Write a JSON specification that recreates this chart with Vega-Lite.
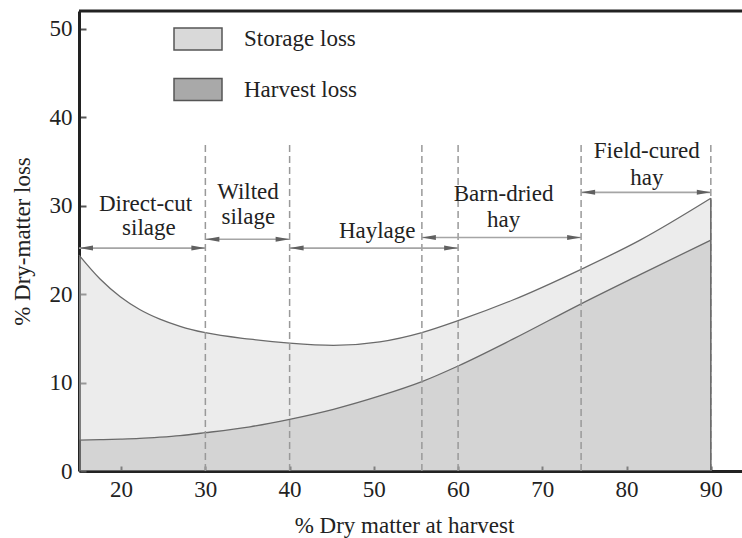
{
  "$schema": "https://vega.github.io/schema/vega-lite/v6.json",
  "width": 663,
  "height": 460,
  "autosize": {"type": "none"},
  "padding": {"left": 79, "top": 11, "right": 0, "bottom": 67},
  "background": "white",
  "config": {
    "view": {"stroke": null},
    "font": "Liberation Serif",
    "axis": {
      "labelFont": "Liberation Serif",
      "labelFontSize": 23,
      "labelColor": "#222",
      "titleFont": "Liberation Serif",
      "titleFontSize": 23,
      "titleFontWeight": "normal",
      "titleColor": "#222",
      "domainColor": "#222",
      "domainWidth": 3,
      "tickColor": "#555",
      "tickWidth": 2,
      "grid": false
    }
  },
  "datasets": {
    "curves": [
      {"dm": 15.0, "harvest": 3.5, "total": 24.4},
      {"dm": 17.5, "harvest": 3.54, "total": 21.7},
      {"dm": 19.9, "harvest": 3.6, "total": 19.7},
      {"dm": 22.2, "harvest": 3.68, "total": 18.26},
      {"dm": 24.6, "harvest": 3.82, "total": 17.17},
      {"dm": 27.0, "harvest": 4.0, "total": 16.36},
      {"dm": 30.0, "harvest": 4.33, "total": 15.63},
      {"dm": 35.3, "harvest": 5.0, "total": 14.9},
      {"dm": 40.0, "harvest": 5.84, "total": 14.45},
      {"dm": 45.2, "harvest": 6.97, "total": 14.2},
      {"dm": 50.7, "harvest": 8.48, "total": 14.6},
      {"dm": 55.7, "harvest": 10.1, "total": 15.65},
      {"dm": 60.0, "harvest": 11.87, "total": 17.0},
      {"dm": 66.5, "harvest": 14.9, "total": 19.33},
      {"dm": 74.6, "harvest": 18.9, "total": 22.8},
      {"dm": 81.6, "harvest": 22.2, "total": 26.1},
      {"dm": 90.0, "harvest": 26.1, "total": 30.83}
    ],
    "dividers": [
      {"dm": 30, "base": 0, "top": 37.1},
      {"dm": 40, "base": 0, "top": 37.1},
      {"dm": 55.7, "base": 0, "top": 37.1},
      {"dm": 60, "base": 0, "top": 37.1},
      {"dm": 74.6, "base": 0, "top": 37.1},
      {"dm": 90, "base": 0, "top": 37.1}
    ],
    "edge": [
      {"dm": 90, "base": 0, "top": 30.83}
    ],
    "frame": [
      {"from": 15, "to": 93.7, "level": 52}
    ],
    "arrows": [
      {"from": 15, "to": 30, "level": 25.2},
      {"from": 30, "to": 40, "level": 26.2},
      {"from": 40, "to": 60, "level": 25.2},
      {"from": 55.7, "to": 74.6, "level": 26.4},
      {"from": 74.6, "to": 90, "level": 31.5}
    ],
    "heads": [
      {"dm": 15, "level": 25.2, "dir": "left"},
      {"dm": 30, "level": 25.2, "dir": "right"},
      {"dm": 30, "level": 26.2, "dir": "left"},
      {"dm": 40, "level": 26.2, "dir": "right"},
      {"dm": 40, "level": 25.2, "dir": "left"},
      {"dm": 60, "level": 25.2, "dir": "right"},
      {"dm": 55.7, "level": 26.4, "dir": "left"},
      {"dm": 74.6, "level": 26.4, "dir": "right"},
      {"dm": 74.6, "level": 31.5, "dir": "left"},
      {"dm": 90, "level": 31.5, "dir": "right"}
    ],
    "labels": [
      {"dm": 22.9, "y": 29.4, "text": "Direct-cut"},
      {"dm": 23.3, "y": 26.68, "text": "silage"},
      {"dm": 35.06, "y": 30.75, "text": "Wilted"},
      {"dm": 35.1, "y": 27.9, "text": "silage"},
      {"dm": 50.4, "y": 26.3, "text": "Haylage"},
      {"dm": 65.4, "y": 30.5, "text": "Barn-dried"},
      {"dm": 65.4, "y": 27.6, "text": "hay"},
      {"dm": 82.4, "y": 35.35, "text": "Field-cured"},
      {"dm": 82.4, "y": 32.3, "text": "hay"}
    ]
  },
  "layer": [
    {
      "data": {"name": "curves"},
      "mark": {"type": "area", "interpolate": "monotone", "opacity": 0.5},
      "encoding": {
        "x": {
          "field": "dm", "type": "quantitative",
          "scale": {"domain": [15, 93.7], "nice": false, "zero": false},
          "axis": {"title": "% Dry matter at harvest", "values": [20, 30, 40, 50, 60, 70, 80, 90], "tickSize": -5, "labelPadding": 12, "titlePadding": 13, "titleX": 325}
        },
        "y": {
          "field": "total", "type": "quantitative", "stack": null,
          "scale": {"domain": [0, 52], "nice": false},
          "axis": {"title": "% Dry-matter loss", "values": [0, 10, 20, 30, 40, 50], "tickSize": -7, "labelPadding": 14, "titlePadding": 15}
        },
        "y2": {"field": "harvest"},
        "color": {
          "datum": "Storage loss",
          "type": "nominal",
          "scale": {"domain": ["Storage loss", "Harvest loss"], "range": ["#d9d9d9", "#a9a9a9"]},
          "legend": {
            "title": null,
            "orient": "none",
            "legendX": 94,
            "legendY": 3,
            "padding": 0,
            "symbolType": "M-1,-0.46H1V0.46H-1Z",
            "symbolSize": 2304,
            "symbolOpacity": 1,
            "symbolStrokeColor": "#555",
            "symbolStrokeWidth": 1.5,
            "rowPadding": 10.5,
            "labelOffset": 21,
            "labelFont": "Liberation Serif",
            "labelFontSize": 23,
            "labelColor": "#222",
            "labelLimit": 300,
            "encode": {"symbols": {"update": {"opacity": {"value": 1}, "stroke": {"value": "#555"}, "strokeWidth": {"value": 1.5}}}}
          }
        }
      }
    },
    {
      "data": {"name": "curves"},
      "mark": {"type": "area", "interpolate": "monotone", "opacity": 0.5},
      "encoding": {
        "x": {"field": "dm", "type": "quantitative"},
        "y": {"field": "harvest", "type": "quantitative", "stack": null},
        "color": {"datum": "Harvest loss", "type": "nominal"}
      }
    },
    {
      "data": {"name": "curves"},
      "mark": {"type": "line", "interpolate": "monotone", "color": "#6a6a6a", "strokeWidth": 1.3},
      "encoding": {
        "x": {"field": "dm", "type": "quantitative"},
        "y": {"field": "total", "type": "quantitative"}
      }
    },
    {
      "data": {"name": "curves"},
      "mark": {"type": "line", "interpolate": "monotone", "color": "#6a6a6a", "strokeWidth": 1.3},
      "encoding": {
        "x": {"field": "dm", "type": "quantitative"},
        "y": {"field": "harvest", "type": "quantitative"}
      }
    },
    {
      "data": {"name": "dividers"},
      "mark": {"type": "rule", "color": "#999999", "strokeWidth": 1.5, "strokeDash": [7, 4]},
      "encoding": {
        "x": {"field": "dm", "type": "quantitative"},
        "y": {"field": "base", "type": "quantitative"},
        "y2": {"field": "top"}
      }
    },
    {
      "data": {"name": "edge"},
      "mark": {"type": "rule", "color": "#6a6a6a", "strokeWidth": 1.6},
      "encoding": {
        "x": {"field": "dm", "type": "quantitative"},
        "y": {"field": "base", "type": "quantitative"},
        "y2": {"field": "top"}
      }
    },
    {
      "data": {"name": "arrows"},
      "mark": {"type": "rule", "color": "#a5a5a5", "strokeWidth": 1.6},
      "encoding": {
        "x": {"field": "from", "type": "quantitative"},
        "x2": {"field": "to"},
        "y": {"field": "level", "type": "quantitative"}
      }
    },
    {
      "data": {"name": "heads"},
      "mark": {"type": "point", "filled": true, "opacity": 1, "color": "#606060", "size": 196},
      "encoding": {
        "x": {"field": "dm", "type": "quantitative"},
        "y": {"field": "level", "type": "quantitative"},
        "shape": {
          "field": "dir", "type": "nominal",
          "scale": {"domain": ["left", "right"], "range": ["M0,0L2,-0.36L2,0.36Z", "M0,0L-2,-0.36L-2,0.36Z"]},
          "legend": null
        }
      }
    },
    {
      "data": {"name": "labels"},
      "mark": {"type": "text", "font": "Liberation Serif", "fontSize": 23, "color": "#222", "align": "center", "baseline": "alphabetic"},
      "encoding": {
        "x": {"field": "dm", "type": "quantitative"},
        "y": {"field": "y", "type": "quantitative"},
        "text": {"field": "text", "type": "nominal"}
      }
    },
    {
      "data": {"name": "frame"},
      "mark": {"type": "rule", "color": "#222", "strokeWidth": 3},
      "encoding": {
        "x": {"field": "from", "type": "quantitative"},
        "x2": {"field": "to"},
        "y": {"field": "level", "type": "quantitative"}
      }
    }
  ]
}
